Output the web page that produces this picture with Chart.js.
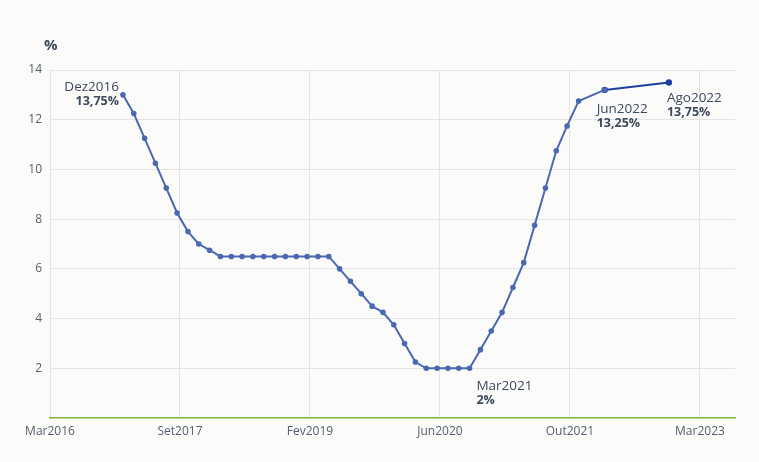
<!DOCTYPE html>
<html><head><meta charset="utf-8">
<script src="https://cdn.jsdelivr.net/npm/chart.js@4"></script>
<style>html,body{margin:0;padding:0;background:#fbfbfa}#w{width:759px;height:462px}</style>
</head><body><div id="w"><canvas id="c"></canvas></div>
<script>
const monthsSinceMar2016 = [10.1,11.6,13.1,14.6,16.1,17.6,19.1,20.6,22.1,23.6,25.1,26.6,28.1,29.6,31.1,32.6,34.1,35.6,37.1,38.6,40.1,41.6,43.1,44.6,46.1,47.6,49.1,50.6,52.1,53.6,55.1,56.6,58.1,59.6,61.1,62.6,64.1,65.6,67.1,68.6,70.1,71.6,73.2,76.8];
const selic = [13.0,12.25,11.25,10.25,9.25,8.25,7.5,7.0,6.75,6.5,6.5,6.5,6.5,6.5,6.5,6.5,6.5,6.5,6.5,6.5,6.0,5.5,5.0,4.5,4.25,3.75,3.0,2.25,2.0,2.0,2.0,2.0,2.0,2.75,3.5,4.25,5.25,6.25,7.75,9.25,10.75,11.75,12.75,13.2];
const lastSegX = [76.8, 85.7];
const lastSegY = [13.2, 13.5];
const tickPos = [0,18,36,54,72,90];
const tickLabels = ['Mar2016','Set2017','Fev2019','Jun2020','Out2021','Mar2023'];
const annotations = [
 {x:10.1,y:13.0,t1:'Dez2016',t2:'13,75%',align:'right',dx:-4,dy:-4},
 {x:73.2,y:12.75,t1:'Jun2022',t2:'13,25%',align:'left',dx:18,dy:12},
 {x:85.7,y:13.5,t1:'Ago2022',t2:'13,75%',align:'left',dx:-2,dy:20},
 {x:59.6,y:2.75,t1:'Mar2021',t2:'2%',align:'left',dx:-4,dy:40}
];
const pts = monthsSinceMar2016.map((x,i)=>({x,y:selic[i]}));
const lastPts = lastSegX.map((x,i)=>({x,y:lastSegY[i]}));
const labelPlugin = {id:'lbl',afterDatasetsDraw(ch){
  const {ctx,scales:{x,y}}=ch; ctx.save();
  annotations.forEach(a=>{
    const px=x.getPixelForValue(a.x)+a.dx, py=y.getPixelForValue(a.y)+a.dy;
    ctx.textAlign=a.align; ctx.fillStyle='#3d4a5c';
    ctx.font='13.5px "Open Sans", sans-serif'; ctx.fillText(a.t1,px,py);
    ctx.font='bold 12.5px "Open Sans", sans-serif'; ctx.fillText(a.t2,px,py+14);
  });
  ctx.textAlign='left';ctx.font='bold 15px "Open Sans", sans-serif';ctx.fillStyle='#3d4a5c';
  ctx.fillText('%',44,50);
  ctx.restore();
}};
new Chart(document.getElementById('c'),{
 type:'scatter',
 data:{datasets:[
  {data:pts,showLine:true,borderColor:'#4a69b0',backgroundColor:'#4a69b0',borderWidth:2,pointRadius:1.8,pointHoverRadius:1.8},
  {data:lastPts,showLine:true,borderColor:'#1f3f9e',backgroundColor:'#1f3f9e',borderWidth:2,pointRadius:2.2}
 ]},
 options:{responsive:true,maintainAspectRatio:false,animation:false,
  layout:{padding:{top:70,right:24,left:0,bottom:0}},
  plugins:{legend:{display:false},tooltip:{enabled:false}},
  scales:{
   x:{type:'linear',min:0,max:94.85,
    afterBuildTicks(s){s.ticks=tickPos.map(v=>({value:v}));},
    afterFit(s){s.height=44;},
    ticks:{autoSkip:false,maxRotation:0,color:'#55606e',font:{size:12,family:'"Open Sans", sans-serif'},padding:6,callback:(v)=>tickLabels[tickPos.indexOf(v)]},
    grid:{color:'#e4e4e4',drawTicks:false},border:{color:'#7cb342',width:1.5}},
   y:{min:0,max:14,
    afterBuildTicks(s){s.ticks=[2,4,6,8,10,12,14].map(v=>({value:v}));},
    afterFit(s){s.width=50;},
    ticks:{color:'#55606e',font:{size:12,family:'"Open Sans", sans-serif'},padding:8},
    grid:{color:'#e4e4e4',drawTicks:false},border:{display:false}}
  }},
 plugins:[labelPlugin]
});
</script></body></html>
